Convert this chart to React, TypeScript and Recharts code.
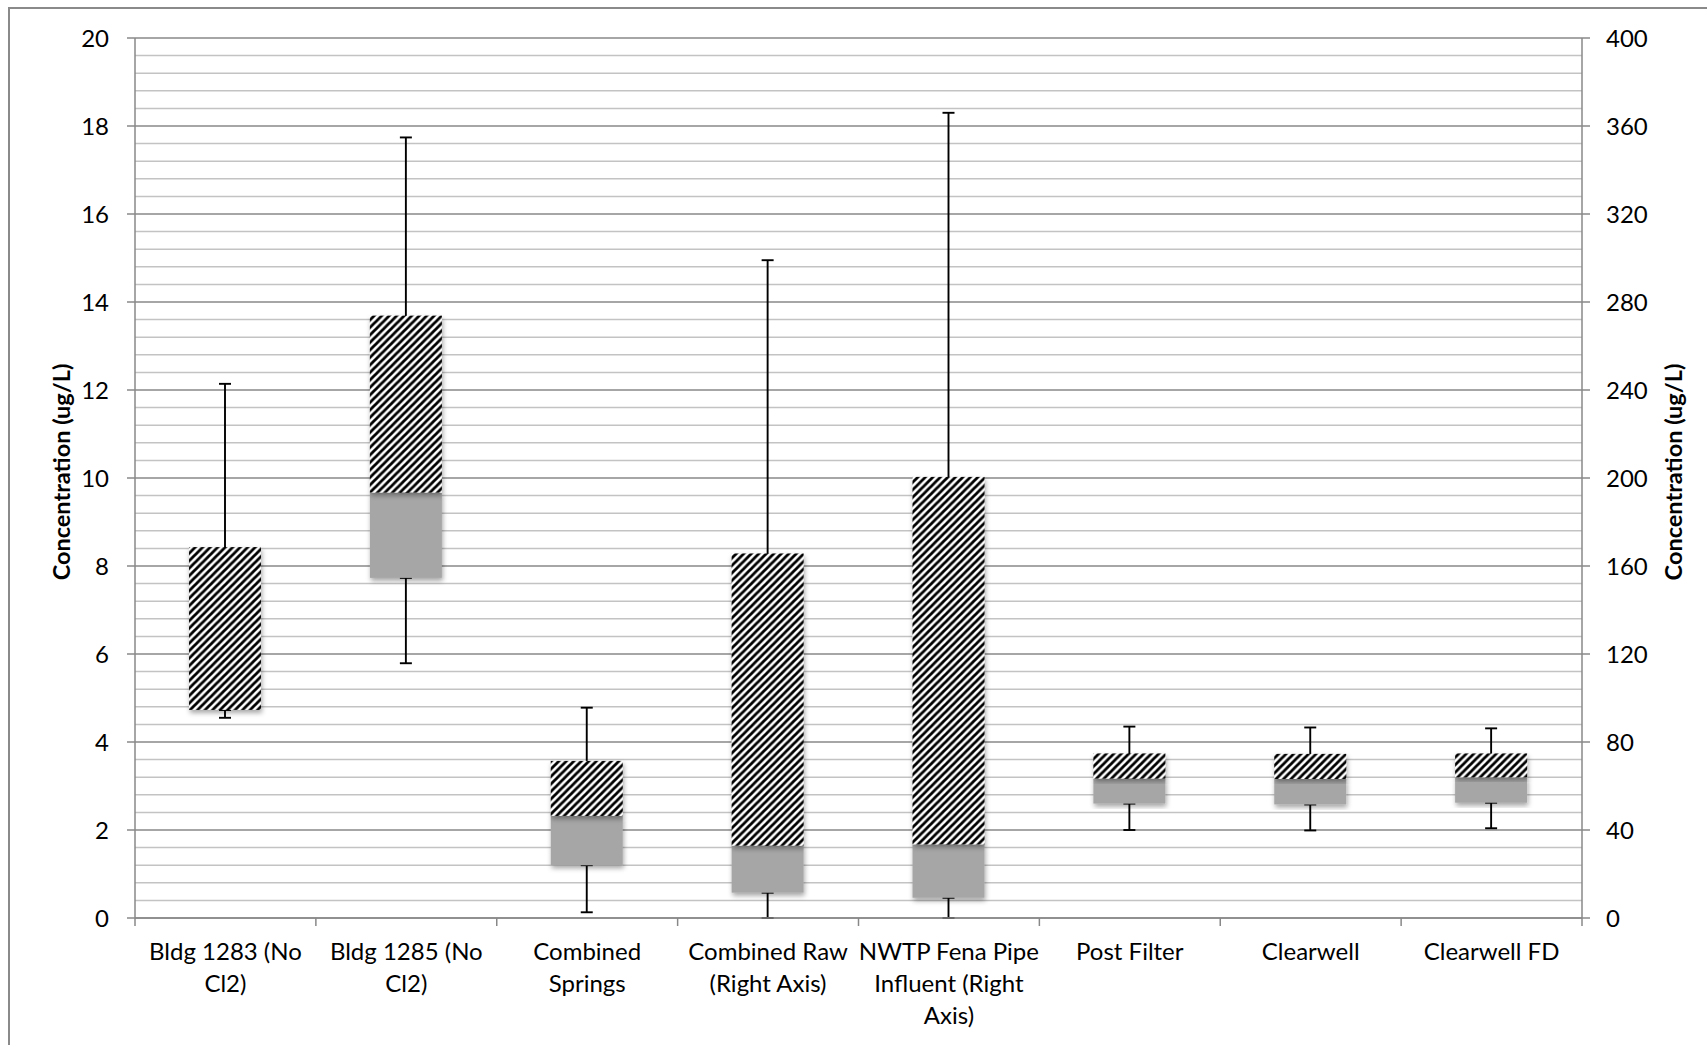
import React from 'react';
import { ComposedChart, Bar, XAxis, YAxis, CartesianGrid, ErrorBar } from 'recharts';

const categories = [
  'Bldg 1283 (No Cl2)',
  'Bldg 1285 (No Cl2)',
  'Combined Springs',
  'Combined Raw (Right Axis)',
  'NWTP Fena Pipe Influent (Right Axis)',
  'Post Filter',
  'Clearwell',
  'Clearwell FD',
];
const categoryLines = [
  ['Bldg 1283 (No', 'Cl2)'],
  ['Bldg 1285 (No', 'Cl2)'],
  ['Combined', 'Springs'],
  ['Combined Raw', '(Right Axis)'],
  ['NWTP Fena Pipe', 'Influent (Right', 'Axis)'],
  ['Post Filter'],
  ['Clearwell'],
  ['Clearwell FD'],
];
const onRightAxis = [false, false, false, true, true, false, false, false];
const minValues = [4.55, 5.79, 0.13, 0, 0, 2.0, 1.99, 2.04];
const q1Values = [4.73, 7.73, 1.2, 11.5, 9.2, 2.6, 2.58, 2.62];
const medianValues = [4.73, 9.67, 2.32, 32.9, 33.5, 3.17, 3.16, 3.2];
const q3Values = [8.43, 13.69, 3.57, 165.7, 200.5, 3.74, 3.73, 3.74];
const maxValues = [12.14, 17.74, 4.78, 299, 366, 4.35, 4.33, 4.31];

const leftTicks = [0, 2, 4, 6, 8, 10, 12, 14, 16, 18, 20];
const rightTicks = [0, 40, 80, 120, 160, 200, 240, 280, 320, 360, 400];
const minorGrid = [0.4, 0.8, 1.2, 1.6, 2.4, 2.8, 3.2, 3.6, 4.4, 4.8, 5.2, 5.6, 6.4, 6.8, 7.2, 7.6, 8.4, 8.8, 9.2, 9.6,
  10.4, 10.8, 11.2, 11.6, 12.4, 12.8, 13.2, 13.6, 14.4, 14.8, 15.2, 15.6, 16.4, 16.8, 17.2, 17.6, 18.4, 18.8, 19.2, 19.6];
const axisTitle = 'Concentration (ug/L)';

const FONT = 'Lato, "Open Sans", sans-serif';

const data = categories.map((name, i) => {
  const row: any = { name };
  const p = onRightAxis[i] ? 'r' : 'l';
  row[p + 'Base'] = q1Values[i];
  row[p + 'Gray'] = medianValues[i] - q1Values[i];
  row[p + 'Hatch'] = q3Values[i] - medianValues[i];
  row[p + 'Low'] = [q1Values[i] - minValues[i], 0];
  row[p + 'High'] = [0, maxValues[i] - medianValues[i]];
  return row;
});

const GrayShape = (p: any) => (
  p.height > 0.01 ? <rect x={p.x} y={p.y} width={p.width} height={p.height} fill="#a6a6a6" filter="url(#boxShadow)" /> : null
);
const HatchShape = (p: any) => (
  p.height > 0.01 ? <rect x={p.x} y={p.y} width={p.width} height={p.height} fill="url(#hatch)" filter="url(#boxShadow)" /> : null
);
const NoShape = () => null;

const XTick = (props: any) => {
  const { x, y, payload } = props;
  const idx = payload.index ?? props.index ?? 0;
  const off = payload.offset ?? 90.4;
  const lines = categoryLines[idx] || [String(payload.value)];
  return (
    <g>
      <line x1={x - off} y1={y} x2={x - off} y2={y + 8} stroke="#888" strokeWidth={1.5} />
      {idx === categories.length - 1 && (
        <line x1={x + off} y1={y} x2={x + off} y2={y + 8} stroke="#888" strokeWidth={1.5} />
      )}
      <text textAnchor="middle" fontFamily={FONT} fontSize={24} fill="#000">
        {lines.map((t, k) => (
          <tspan key={k} x={x} y={y + 42 + k * 32}>{t}</tspan>
        ))}
      </text>
    </g>
  );
};

const makeTitle = (dx: number) => (p: any) => {
  const vb = p.viewBox || { x: 0, y: 0, width: 0, height: 0 };
  const cx = vb.x + dx;
  const cy = vb.y + vb.height / 2 - 6;
  return (
    <text x={cx} y={cy} transform={`rotate(-90, ${cx}, ${cy})`} textAnchor="middle" dominantBaseline="central"
      fontFamily={FONT} fontWeight="bold" fontSize={23.5} fill="#000">{axisTitle}</text>
  );
};

export default function App() {
  return (
    <div style={{ position: 'fixed', left: 0, top: 0, width: 1707, height: 1045, overflow: 'hidden', background: '#fff' }}>
      <div style={{ position: 'absolute', left: 8, top: 7, width: 1720, height: 1060, borderLeft: '2px solid #8a8a8a', borderTop: '2px solid #8a8a8a' }} />
      <div style={{ position: 'absolute', left: 0, top: 0 }}>
        <ComposedChart width={1707} height={1045} data={data} margin={{ top: 38, right: 0, left: 0, bottom: 0 }}>
          <defs>
            <pattern id="hatch" patternUnits="userSpaceOnUse" width="7.5" height="7.5">
              <rect x="0" y="0" width="7.5" height="7.5" fill="#fff" />
              <path d="M-1,1 l2,-2 M0,7.5 l7.5,-7.5 M6.5,8.5 l2,-2" stroke="#000" strokeWidth="2.8" />
            </pattern>
            <filter id="boxShadow" x="-20%" y="-20%" width="140%" height="140%">
              <feDropShadow dx="1" dy="3" stdDeviation="2.5" floodColor="#000" floodOpacity="0.35" />
            </filter>
          </defs>
          <CartesianGrid yAxisId="left" xAxisId="main" vertical={false} horizontalValues={minorGrid} stroke="#c3c3c3" strokeWidth={1.5} />
          <CartesianGrid yAxisId="left" xAxisId="main" vertical={false} horizontalValues={leftTicks} stroke="#888" strokeWidth={1.5} />
          <XAxis xAxisId="alt" dataKey="name" hide height={0} />
          <XAxis xAxisId="main" dataKey="name" height={127} tickLine={false} tickSize={0} tickMargin={0}
            axisLine={{ stroke: '#888', strokeWidth: 1.5 }} tick={<XTick />} interval={0} />
          <YAxis yAxisId="left" orientation="left" width={135} domain={[0, 20]} ticks={leftTicks} interval={0}
            tickSize={8} tickMargin={18} axisLine={{ stroke: '#888', strokeWidth: 1.5 }} tickLine={{ stroke: '#888', strokeWidth: 1.5 }}
            tick={{ fill: '#000', fontSize: 24, fontFamily: FONT }} label={makeTitle(61)} />
          <YAxis yAxisId="right" orientation="right" width={125} domain={[0, 400]} ticks={rightTicks} interval={0}
            tickSize={8} tickMargin={16} axisLine={{ stroke: '#888', strokeWidth: 1.5 }} tickLine={{ stroke: '#888', strokeWidth: 1.5 }}
            tick={{ fill: '#000', fontSize: 24, fontFamily: FONT }} label={makeTitle(91)} />

          <Bar xAxisId="main" yAxisId="left" dataKey="lBase" stackId="L" barSize={72} shape={NoShape} isAnimationActive={false}>
            <ErrorBar dataKey="lLow" direction="y" width={6} stroke="#000" strokeWidth={1.9} zIndex={250} />
          </Bar>
          <Bar xAxisId="main" yAxisId="left" dataKey="lGray" stackId="L" barSize={72} shape={GrayShape} isAnimationActive={false}>
            <ErrorBar dataKey="lHigh" direction="y" width={6} stroke="#000" strokeWidth={1.9} zIndex={250} />
          </Bar>
          <Bar xAxisId="main" yAxisId="left" dataKey="lHatch" stackId="L" barSize={72} shape={HatchShape} isAnimationActive={false} />

          <Bar xAxisId="alt" yAxisId="right" dataKey="rBase" stackId="R" barSize={72} shape={NoShape} isAnimationActive={false}>
            <ErrorBar dataKey="rLow" direction="y" width={6} stroke="#000" strokeWidth={1.9} zIndex={250} />
          </Bar>
          <Bar xAxisId="alt" yAxisId="right" dataKey="rGray" stackId="R" barSize={72} shape={GrayShape} isAnimationActive={false}>
            <ErrorBar dataKey="rHigh" direction="y" width={6} stroke="#000" strokeWidth={1.9} zIndex={250} />
          </Bar>
          <Bar xAxisId="alt" yAxisId="right" dataKey="rHatch" stackId="R" barSize={72} shape={HatchShape} isAnimationActive={false} />
        </ComposedChart>
      </div>
    </div>
  );
}
